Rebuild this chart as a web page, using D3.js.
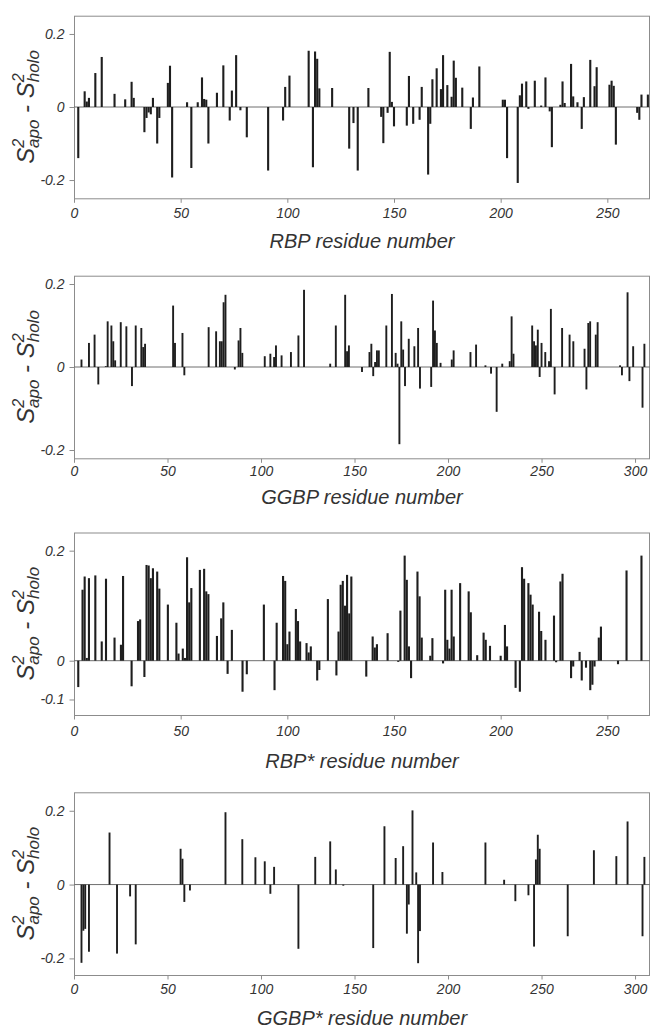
<!DOCTYPE html>
<html>
<head>
<meta charset="utf-8">
<script src="https://cdn.jsdelivr.net/npm/d3@7"></script>
<style>
  body { margin: 0; background: #fff; }
  text { font-family: "Liberation Sans", Arial, sans-serif; font-style: italic; fill: #333; }
</style>
</head>
<body>
<div id="chart"></div>
<script>
// RBP residues and S2(apo) - S2(holo)
var rbpRes = [2,5,6,7,10,13,19,24,27,28,33,34,35,36,37,39,40,44,45,46,53,55,58,60,61,62,63,67,70,73,
  74,76,78,81,91,98,99,101,110,112,113,114,115,121,129,131,133,138,144,145,147,148,149,150,156,157,159,162,163,166,
  167,168,170,172,173,175,177,178,179,182,186,187,190,201,202,203,208,209,210,212,213,216,219,221,223,224,228,229,230,233,
  234,236,238,239,242,244,245,251,252,253,254,264,265,266,269];
var rbpVal = [-0.14,0.043,0.015,0.025,0.093,0.137,0.036,0.021,0.069,0.025,-0.069,-0.03,-0.015,-0.02,0.025,-0.1,-0.03,0.066,0.113,-0.193,
  0.013,-0.167,0.013,0.081,0.022,0.02,-0.1,0.039,0.114,-0.037,0.045,0.142,-0.009,-0.083,-0.174,-0.037,0.055,0.086,0.154,-0.165,
  0.152,0.132,0.051,0.052,-0.114,-0.044,-0.174,0.052,-0.027,-0.099,-0.016,0.151,0.014,-0.053,-0.051,0.085,-0.046,-0.035,0.055,-0.185,
  -0.046,0.076,0.106,0.049,0.142,0.06,0.028,0.127,0.08,0.053,-0.06,0.026,0.111,0.02,0.02,-0.14,-0.208,0.032,0.064,0.07,
  -0.005,0.072,0.004,0.081,-0.012,-0.11,0.006,0.07,0.011,0.118,0.029,0.013,-0.06,0.027,0.129,0.057,0.109,0.061,0.072,0.058,
  -0.103,-0.016,-0.035,0.034,0.034];

// GGBP
var ggbpRes = [4,8,11,13,17,18,20,21,22,25,28,31,33,36,37,38,53,54,58,59,72,76,78,79,80,81,86,88,89,90,
  102,105,107,108,111,116,120,123,137,140,145,146,147,154,158,159,160,161,162,163,167,170,172,173,174,175,176,177,179,182,
  184,185,191,192,193,194,196,202,203,212,215,220,223,226,229,233,234,235,245,246,247,248,249,250,252,254,255,257,261,265,
  267,273,274,275,276,279,280,292,293,296,297,299,304,305];
var ggbpVal = [0.018,0.058,0.078,-0.042,0.002,0.11,0.1,0.062,0.016,0.108,0.098,-0.046,0.1,0.094,0.048,0.056,0.148,0.058,0.082,-0.02,
  0.096,0.086,0.062,0.062,0.156,0.174,-0.006,0.064,0.094,0.034,0.026,0.032,0.024,0.052,0.028,0.036,0.076,0.186,0.008,0.1,
  0.174,0.038,0.052,-0.012,0.036,0.056,-0.022,0.012,0.04,0.04,0.1,0.176,0.034,0.008,-0.186,0.11,0.042,-0.046,0.068,0.05,
  0.094,-0.052,-0.048,0.16,0.088,0.058,0.01,0.018,0.04,0.036,0.054,0.004,-0.016,-0.108,0.008,0.014,0.122,0.032,0.1,0.062,
  0.052,0.09,-0.024,0.058,0.036,0.014,0.14,-0.066,0.094,0.078,0.062,0.044,-0.054,0.106,0.11,0.078,0.108,0.004,-0.02,0.18,
  -0.034,0.05,-0.098,0.056];

// RBP*
var rbpsRes = [2,4,5,6,7,10,13,15,19,22,23,27,30,31,33,34,35,36,37,39,40,44,48,49,51,52,53,54,55,59,
  61,62,63,67,69,70,72,74,79,81,89,94,95,98,99,100,101,104,105,106,109,110,111,114,115,119,123,124,125,126,
  127,128,129,130,137,140,141,142,147,152,153,155,156,157,158,161,162,163,167,168,173,174,175,176,177,178,181,185,186,189,
  192,193,195,200,202,203,207,209,210,211,213,214,215,218,219,221,225,226,228,229,233,234,237,238,240,242,243,244,246,247,
  255,259,266];
var rbpsVal = [-0.068,0.129,0.153,0.005,0.15,0.155,0.035,0.149,0.042,0.029,0.154,-0.066,0.072,0.075,-0.042,0.174,0.173,0.15,0.168,0.162,
  0.131,0.102,0.069,0.013,0.022,0.005,0.188,0.106,0.132,0.165,0.167,0.126,0.121,0.045,0.077,0.106,-0.034,0.056,-0.08,-0.035,
  0.102,-0.076,0.069,0.154,0.145,0.03,0.053,0.094,0.072,0.035,0.032,0.015,0.026,-0.051,-0.024,0.112,-0.038,0.053,0.138,0.145,
  0.1,0.156,0.086,0.153,-0.041,0.044,0.024,0.03,0.05,-0.003,0.091,0.191,0.147,0.026,-0.045,0.162,0.117,0.042,0.009,0.041,
  -0.007,0.129,0.038,0.022,0.129,0.044,0.141,0.126,0.088,0.01,0.051,0.038,0.027,0.009,0.065,0.026,-0.07,-0.08,0.17,0.149,
  0.141,0.12,0.102,0.089,0.054,0.038,0.082,-0.004,0.144,0.158,-0.045,-0.015,0.016,-0.051,-0.018,-0.076,-0.062,-0.015,0.042,0.062,
  -0.009,0.164,0.191];

// GGBP*
var ggbpsRes = [4,5,6,8,19,23,30,33,57,58,59,62,81,90,97,102,105,107,120,129,
  137,140,144,160,166,172,176,178,179,181,183,184,185,192,197,220,230,236,243,246,
  247,248,249,264,278,290,296,304,305];
var ggbpsVal = [-0.212,-0.125,-0.12,-0.182,0.141,-0.187,-0.032,-0.162,0.097,0.07,-0.047,-0.016,0.196,0.123,0.074,0.063,-0.025,0.048,-0.174,0.075,
  0.117,0.041,-0.003,-0.172,0.158,0.072,0.104,-0.133,-0.054,0.201,0.033,-0.213,-0.126,0.114,0.034,0.114,0.013,-0.045,-0.029,-0.168,
  0.068,0.135,0.097,-0.14,0.093,0.077,0.171,-0.14,0.075];

var rbpTicksX = [0,50,100,150,200,250];
var ggbpTicksX = [0,50,100,150,200,250,300];
var yTicks2 = [-0.2,0,0.2];
var yTicks1 = [-0.1,0,0.2];

var width = 651, height = 1032;
var left = 74, right = 650;

var svg = d3.select("#chart").append("svg")
    .attr("width", width)
    .attr("height", height);

var panels = [
  { res: rbpRes, val: rbpVal, xMax: 270, xTicks: rbpTicksX, yTicks: yTicks2,
    yDomain: [-0.25, 0.25], yRange: [198.3, 15.7], tickBase: 218, titleBase: 248, barW: 2.1,
    title: "RBP residue number" },
  { res: ggbpRes, val: ggbpVal, xMax: 308, xTicks: ggbpTicksX, yTicks: yTicks2,
    yDomain: [-0.22, 0.22], yRange: [458.3, 275.7], tickBase: 476, titleBase: 504, barW: 1.9,
    title: "GGBP residue number" },
  // the RBP* y axis is not uniform in the source: 0..0.2 is stretched more than 0..-0.1
  { res: rbpsRes, val: rbpsVal, xMax: 270, xTicks: rbpTicksX, yTicks: yTicks1,
    yDomain: [-0.14, 0, 0.233], yRange: [715, 660.7, 532.5], tickBase: 735, titleBase: 768, barW: 2.1,
    title: "RBP* residue number" },
  { res: ggbpsRes, val: ggbpsVal, xMax: 308, xTicks: ggbpTicksX, yTicks: yTicks2,
    yDomain: [-0.245, 0.25], yRange: [975, 792.3], tickBase: 993, titleBase: 1025, barW: 1.9,
    title: "GGBP* residue number" }
];

panels.forEach(function (p) {
    var x = d3.scaleLinear().domain([0, p.xMax]).range([left, right]);
    var y = d3.scaleLinear().domain(p.yDomain).range(p.yRange);
    var bottom = p.yRange[0], top = p.yRange[p.yRange.length - 1];
    var g = svg.append("g");

    // frame
    g.append("rect")
        .attr("x", left + 0.5).attr("y", top + 0.5)
        .attr("width", right - left - 1).attr("height", bottom - top)
        .attr("fill", "none").attr("stroke", "#8c8c8c").attr("stroke-width", 1);

    // zero line
    g.append("line")
        .attr("x1", left).attr("x2", right)
        .attr("y1", y(0)).attr("y2", y(0))
        .attr("stroke", "#6e6e6e").attr("stroke-width", 1);

    // bars
    var data = p.res.map(function (r, i) { return { r: r, v: p.val[i] }; });
    g.selectAll("rect.bar")
        .data(data)
        .join("rect")
        .attr("class", "bar")
        .attr("x", function (d) { return x(d.r) - p.barW / 2; })
        .attr("y", function (d) { return y(Math.max(0, d.v)); })
        .attr("width", p.barW)
        .attr("height", function (d) { return Math.abs(y(d.v) - y(0)); })
        .attr("fill", "#1e1e1e");

    // x axis
    var gx = g.append("g")
        .attr("transform", "translate(0," + (bottom + 0.5) + ")")
        .call(d3.axisBottom(x).tickValues(p.xTicks).tickSize(4).tickFormat(d3.format("d")));
    gx.select(".domain").remove();
    gx.selectAll(".tick line").attr("stroke", "#8c8c8c");
    gx.selectAll(".tick text")
        .attr("y", p.tickBase - bottom).attr("dy", 0)
        .attr("font-size", "14px").attr("fill", "#333");

    // y axis
    var gy = g.append("g")
        .attr("transform", "translate(" + (left + 0.5) + ",0)")
        .call(d3.axisLeft(y).tickValues(p.yTicks).tickSize(5).tickPadding(5)
            .tickFormat(function (d) { return d === 0 ? "0" : String(d); }));
    gy.select(".domain").remove();
    gy.selectAll(".tick line").attr("stroke", "#8c8c8c");
    gy.selectAll(".tick text").attr("font-size", "14px").attr("fill", "#333");

    // x title
    g.append("text")
        .attr("x", (left + right) / 2)
        .attr("y", p.titleBase)
        .attr("text-anchor", "middle")
        .attr("font-size", "20px")
        .attr("fill", "#222")
        .text(p.title);

    // y title: S2apo - S2holo
    var yt = g.append("text")
        .attr("transform", "translate(34," + ((top + bottom) / 2) + ") rotate(-90)")
        .attr("text-anchor", "middle")
        .attr("font-size", "24px")
        .attr("fill", "#333");
    yt.append("tspan").text("S");
    yt.append("tspan").attr("font-size", "16px").attr("dy", -10).text("2");
    yt.append("tspan").attr("font-size", "17px").attr("dx", -9).attr("dy", 15).text("apo");
    yt.append("tspan").attr("dy", -5).text(" - ");
    yt.append("tspan").text("S");
    yt.append("tspan").attr("font-size", "16px").attr("dy", -10).text("2");
    yt.append("tspan").attr("font-size", "17px").attr("dx", -9).attr("dy", 15).text("holo");
});
</script>
</body>
</html>
